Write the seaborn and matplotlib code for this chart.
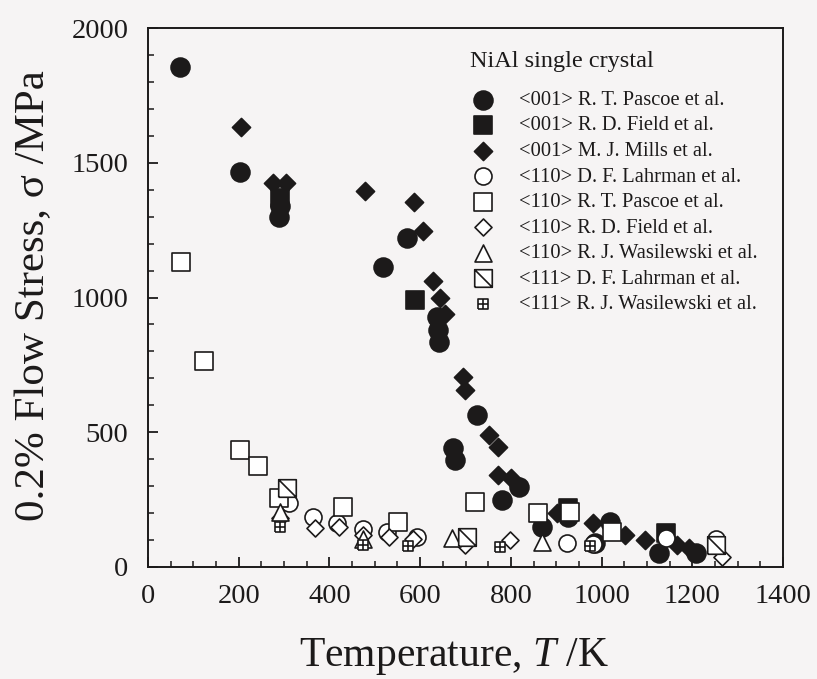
import numpy as np
import matplotlib
matplotlib.use("Agg")
import matplotlib.pyplot as plt
from matplotlib.path import Path
import seaborn as sns

# ---------------- data ----------------
# <001> R. T. Pascoe et al. (filled circle)
p001_T = [70, 202, 288, 290, 519, 571, 637, 640, 642, 673, 677, 725, 780, 818, 868, 925, 985, 1018, 1127, 1209]
p001_S = [1855, 1466, 1300, 1340, 1113, 1220, 928, 880, 835, 442, 397, 564, 249, 295, 148, 185, 88, 167, 52, 52]
# <001> R. D. Field et al. (filled square)
f001_T = [290, 589, 925, 1143]
f001_S = [1370, 990, 220, 125]
# <001> M. J. Mills et al. (filled diamond)
m001_T = [204, 275, 305, 479, 587, 607, 629, 644, 655, 695, 699, 752, 771, 771, 800, 901, 980, 1051, 1095, 1167, 1193]
m001_S = [1633, 1425, 1425, 1395, 1354, 1247, 1061, 998, 939, 705, 657, 490, 445, 341, 330, 200, 163, 119, 100, 82, 70]
# <110> D. F. Lahrman et al. (open circle)
l110_T = [310, 363, 417, 475, 527, 593, 923, 980, 1143, 1253]
l110_S = [237, 186, 163, 140, 130, 111, 89, 85, 108, 105]
# <110> R. T. Pascoe et al. (open square)
p110_T = [72, 123, 202, 242, 288, 431, 552, 721, 859, 930, 1022]
p110_S = [1132, 764, 434, 375, 256, 223, 167, 241, 200, 205, 130]
# <110> R. D. Field et al. (open diamond)
f110_T = [290, 369, 422, 475, 532, 585, 699, 798, 1266]
f110_S = [180, 145, 148, 120, 111, 104, 82, 100, 37]
# <110> R. J. Wasilewski et al. (open triangle)
w110_T = [290, 475, 670, 868]
w110_S = [205, 105, 108, 93]
# <111> D. F. Lahrman et al. (square with diagonal)
l111_T = [307, 703, 1253]
l111_S = [293, 111, 80]
# <111> R. J. Wasilewski et al. (small square with cross)
w111_T = [290, 475, 574, 776, 975]
w111_S = [150, 80, 78, 74, 78]

legend_title = "NiAl single crystal"
labels = [
    "<001> R. T. Pascoe et al.",
    "<001> R. D. Field et al.",
    "<001> M. J. Mills et al.",
    "<110> D. F. Lahrman et al.",
    "<110> R. T. Pascoe et al.",
    "<110> R. D. Field et al.",
    "<110> R. J. Wasilewski et al.",
    "<111> D. F. Lahrman et al.",
    "<111> R. J. Wasilewski et al.",
]
x_ticks = [0, 200, 400, 600, 800, 1000, 1200, 1400]
y_ticks = [0, 500, 1000, 1500, 2000]

# ---------------- custom markers ----------------
M, L = Path.MOVETO, Path.LINETO
diag_sq = Path([(-1, -1), (1, -1), (1, 1), (-1, 1), (-1, -1), (-1, 1), (1, -1)],
               [M, L, L, L, L, M, L])
grid_sq = Path([(-1, -1), (1, -1), (1, 1), (-1, 1), (-1, -1),
                (-1, 0), (1, 0), (0, -1), (0, 1)],
               [M, L, L, L, L, M, L, M, L])

# ---------------- style ----------------
sns.set_style("ticks")
bg = "#f6f4f4"
ink = "#1c1a1a"
plt.rcParams["font.family"] = ["Liberation Serif", "DejaVu Serif"]
plt.rcParams["mathtext.fontset"] = "custom"
plt.rcParams["mathtext.rm"] = "Liberation Serif"
plt.rcParams["mathtext.it"] = "Liberation Serif:italic"

fig = plt.figure(figsize=(8.17, 6.79), dpi=100, facecolor=bg)
ax = fig.add_axes([148 / 817, 1 - 567 / 679, (783 - 148) / 817, (567 - 28) / 679])
ax.set_facecolor(bg)

series = [
    (p001_T, p001_S, "o", ink, 185),
    (f001_T, f001_S, "s", ink, 175),
    (m001_T, m001_S, "D", ink, 85),
    (l110_T, l110_S, "o", "white", 150),
    (p110_T, p110_S, "s", "white", 160),
    (f110_T, f110_S, "D", "white", 75),
    (w110_T, w110_S, "^", "white", 150),
    (l111_T, l111_S, diag_sq, "white", 160),
    (w111_T, w111_S, grid_sq, "white", 60),
]

for (xs, ys, mk, fc, s), lab in zip(series, labels):
    sns.scatterplot(x=xs, y=ys, marker=mk, s=s, color=fc, edgecolor=ink,
                    linewidth=1.2, ax=ax, label=lab, zorder=3)

ax.set_xlim(0, 1400)
ax.set_ylim(0, 2000)
ax.set_xticks(x_ticks)
ax.set_yticks(y_ticks)
ax.set_xticks(np.arange(0, 1401, 50), minor=True)
ax.set_yticks(np.arange(0, 2001, 100), minor=True)
ax.tick_params(which="both", direction="in", colors=ink, labelsize=20.5,
               top=False, right=False)
ax.tick_params(which="major", length=7, width=1.3)
ax.tick_params(which="minor", length=4, width=1.1)
ax.tick_params(axis="x", pad=12)
ax.tick_params(axis="y", pad=14)
for sp in ax.spines.values():
    sp.set_visible(True)
    sp.set_linewidth(1.4)
    sp.set_color(ink)

ax.set_xlabel("Temperature, $T$ /K", fontsize=30, color=ink)
ax.xaxis.set_label_coords(0.482, -0.128)
ax.set_ylabel("0.2% Flow Stress, σ /MPa", fontsize=31, color=ink)
ax.yaxis.set_label_coords(-0.149, 0.503)

ax.text(0.507, 0.937, legend_title, transform=ax.transAxes, fontsize=17.5,
        color=ink, ha="left", va="center")

leg = ax.legend(loc="upper left", bbox_to_anchor=(0.508, 0.884), frameon=False,
                fontsize=14.8, handlelength=1.2, handletextpad=1.15,
                labelspacing=0.30, borderaxespad=0.0, borderpad=0.0,
                scatterpoints=1)
for t in leg.get_texts():
    t.set_color(ink)

fig.savefig("out.png", dpi=100, facecolor=bg)
